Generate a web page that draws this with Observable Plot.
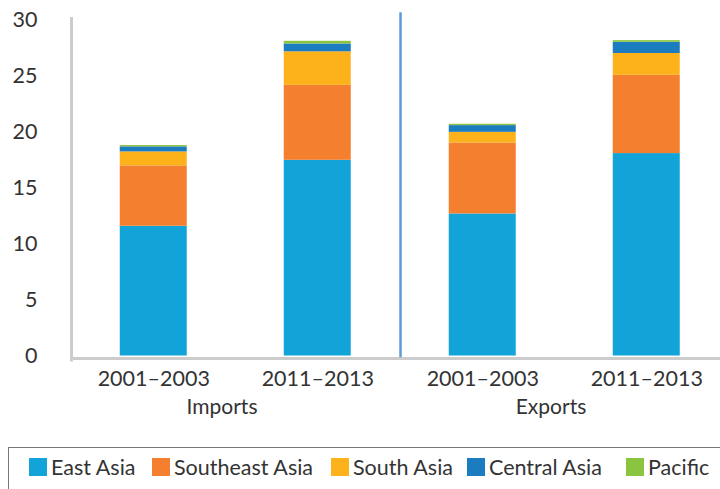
<!DOCTYPE html>
<html>
<head>
<meta charset="utf-8">
<script src="https://cdn.jsdelivr.net/npm/d3@7"></script>
<script src="https://cdn.jsdelivr.net/npm/@observablehq/plot@0.6"></script>
<style>
  html, body { margin: 0; padding: 0; background: #fff; overflow: hidden; }
  body { font-family: Lato, "Open Sans", sans-serif; color: #333; }
  #legend { position: absolute; left: 8px; top: 447px; width: 740px; height: 60px;
            border: 1.5px solid #777; box-sizing: border-box; }
  .item { position: absolute; top: 6px; display: flex; align-items: center; font-size: 21.5px; white-space: nowrap; }
  .sw { width: 18px; height: 18px; margin-right: 4px; }
</style>
</head>
<body>
<div id="chart"></div>
<div id="legend"></div>
<script>
// Categories
const flows = ["Imports", "Exports"];
const periods = ["2001–2003", "2011–2013"];
const regions = ["East Asia", "Southeast Asia", "South Asia", "Central Asia", "Pacific"];
const colors = ["#12a4d9", "#f37f2f", "#fdb21c", "#1c7cc0", "#8bc43f"];
// Values, order: Imports 2001–2003, Imports 2011–2013, Exports 2001–2003, Exports 2011–2013
const eastAsia      = [11.6, 17.5, 12.7, 18.1];
const southeastAsia = [5.4, 6.7, 6.35, 7.0];
const southAsia     = [1.25, 3.0, 0.95, 1.95];
const centralAsia   = [0.45, 0.7, 0.6, 1.0];
const pacific       = [0.12, 0.24, 0.12, 0.15];
const yTicks = [0, 5, 10, 15, 20, 25, 30];

const series = [eastAsia, southeastAsia, southAsia, centralAsia, pacific];
const table = [];
flows.forEach((flow, fi) => periods.forEach((period, pi) => {
  const k = fi * 2 + pi;
  regions.forEach((region, ri) => table.push({flow, period, region, value: series[ri][k]}));
}));

const plot = Plot.plot({
  width: 720,
  height: 440,
  marginTop: 20,
  marginBottom: 84.5,
  marginLeft: 71.25,
  marginRight: 0,
  style: {fontFamily: "Lato, 'Open Sans', sans-serif", color: "#333", overflow: "visible"},
  fx: {domain: flows, range: [71.25, 729.25], padding: 0},
  x: {domain: periods, paddingInner: 0.593, paddingOuter: 0.2965},
  y: {domain: [0, 30], ticks: yTicks},
  color: {domain: regions, range: colors},
  marks: [
    Plot.barY(table, {fx: "flow", x: "period", y: "value", fill: "region"}),
    Plot.ruleY([0], {stroke: "#cccccc", strokeWidth: 3, dy: 2.5}),
    Plot.frame({anchor: "left", facet: "super", stroke: "#cccccc", strokeWidth: 3, insetTop: -2, insetBottom: -4}),
    Plot.frame({anchor: "right", stroke: "#5b9bd5", strokeWidth: 2.5, insetTop: -7}),
    Plot.axisY({ticks: yTicks, tickSize: 0, tickPadding: 34, fontSize: 21.5, label: null}),
    Plot.axisX({tickSize: 0, tickPadding: 15, fontSize: 21.5, label: null}),
    Plot.axisFx({anchor: "bottom", tickSize: 0, tickPadding: 43, fontSize: 21, dx: -14, label: null})
  ]
});
document.getElementById("chart").appendChild(plot);

// Legend
const legendX = [20, 143, 322, 458, 617];
const legend = d3.select("#legend");
regions.forEach((r, i) => {
  const item = legend.append("div").attr("class", "item").style("left", legendX[i] + "px");
  item.append("div").attr("class", "sw").style("background", colors[i]);
  item.append("span").text(r);
});
</script>
</body>
</html>
